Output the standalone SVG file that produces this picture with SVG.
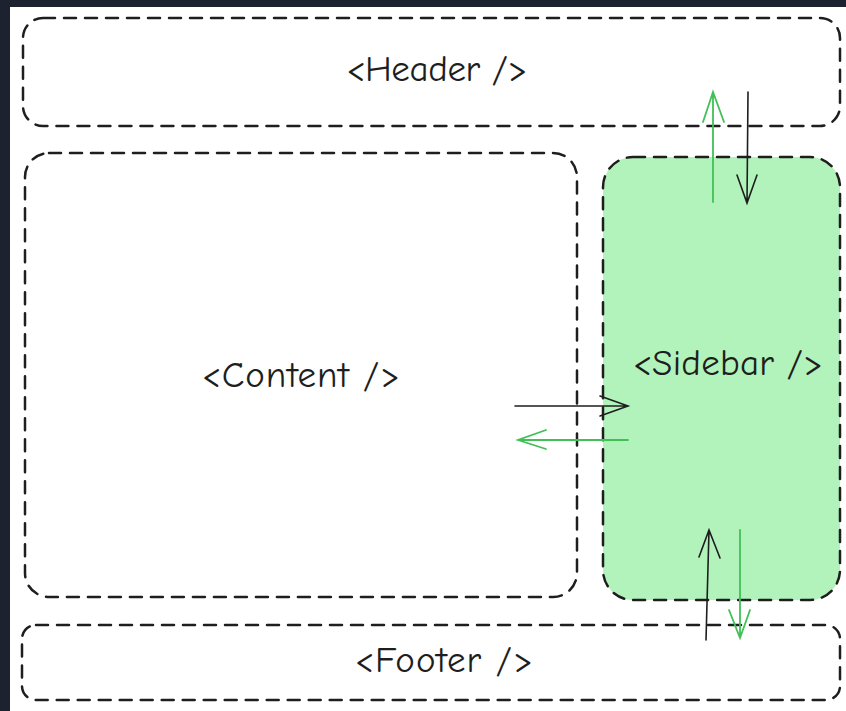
<svg xmlns="http://www.w3.org/2000/svg" width="846" height="711" viewBox="0 0 846 711">
<style>
.box{fill:none;stroke:#1e1e1e;stroke-width:2.5;stroke-dasharray:12 9;stroke-linecap:round}
.side{fill:#b2f2bb}
.lbl{font-family:"Comic Neue","DejaVu Sans",sans-serif;font-size:37px;fill:#1e1e1e;text-anchor:middle;dominant-baseline:middle}
.ab{stroke:#1e1e1e;stroke-width:1.6;fill:none;stroke-linecap:round}
.ag{stroke:#40c057;stroke-width:1.8;fill:none;stroke-linecap:round}
</style>
<rect x="0" y="0" width="846" height="711" fill="#1c2230"/>
<rect x="10" y="7" width="836" height="704" fill="#ffffff"/>
<g id="header">
<rect class="box" x="23" y="18" width="817" height="108" rx="20"/>
<text class="lbl" x="437" y="72" textLength="181" lengthAdjust="spacing">&lt;Header /&gt;</text>
</g>
<g id="content">
<rect class="box" x="25" y="153" width="552" height="444" rx="24"/>
<text class="lbl" x="301" y="378" textLength="198" lengthAdjust="spacing">&lt;Content /&gt;</text>
</g>
<g id="sidebar">
<rect class="side" x="603" y="157" width="237" height="443" rx="30"/>
<rect class="box" x="603" y="157" width="237" height="443" rx="30"/>
<text class="lbl" x="728" y="366" textLength="190" lengthAdjust="spacing">&lt;Sidebar /&gt;</text>
</g>
<g id="footer">
<rect class="box" x="22" y="625" width="818" height="75" rx="14"/>
<text class="lbl" x="444" y="663" textLength="178" lengthAdjust="spacing">&lt;Footer /&gt;</text>
</g>
<g id="connectors">
<path class="ag" d="M713 202 L713 92 M703 122 L713 92 L724 122"/>
<path class="ab" d="M748 92 L747 203 M737 175 L747 203 L757 175"/>
<path class="ab" d="M515 406 L628 406 M600 396 L628 406 L600 416"/>
<path class="ag" d="M628 440 L518 440 M546 430 L518 440 L546 449"/>
<path class="ab" d="M706 640 L709 530 M699 557 L709 530 L720 558"/>
<path class="ag" d="M740 530 L740 638 M729 610 L740 638 L750 610"/>
</g>
</svg>
